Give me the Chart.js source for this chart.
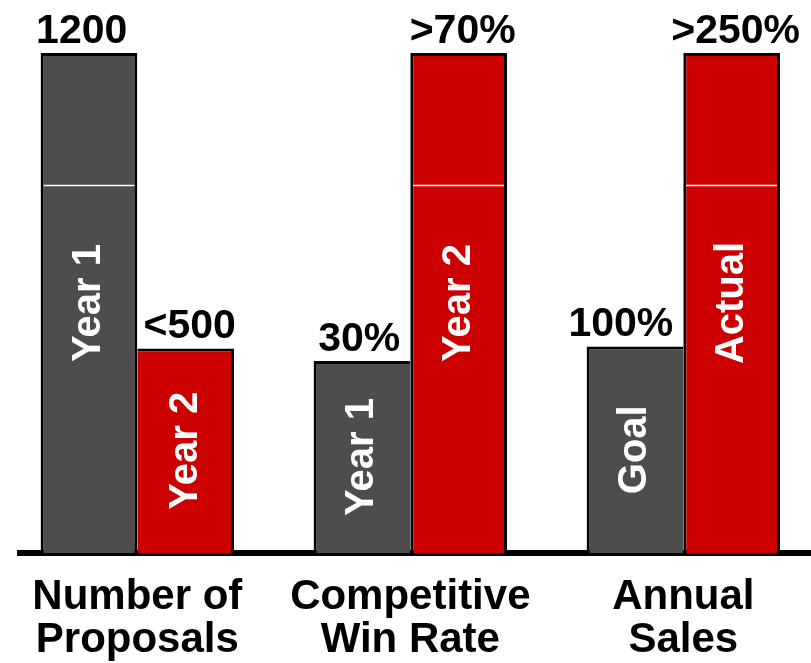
<!DOCTYPE html>
<html><head><meta charset="utf-8">
<script src="https://cdn.jsdelivr.net/npm/chart.js@4"></script>
<style>html,body{margin:0;padding:0;background:#fff;overflow:hidden}</style>
</head><body>
<canvas id="c" width="811" height="663"></canvas>
<script>
// ---- data ----
const categories = [["Number of","Proposals"],["Competitive","Win Rate"],["Annual","Sales"]];
const positions = [0, 1, 2];
const firstHeights = [100, 38.4, 41.3];     // relative bar heights (dark bars)
const secondHeights = [40.9, 100, 100];     // relative bar heights (red bars)
const firstValueLabels = ["1200", "30%", "100%"];
const secondValueLabels = ["<500", ">70%", ">250%"];
const firstBarNames = ["Year 1", "Year 1", "Goal"];
const secondBarNames = ["Year 2", "Year 2", "Actual"];
const breakValue = 73.5;

const FONT = '"Liberation Sans", Arial, Helvetica, sans-serif';
const valueLabels = [firstValueLabels, secondValueLabels];
const barNames = [firstBarNames, secondBarNames];

const annot = {
  id: 'annot',
  afterDatasetsDraw(chart) {
    const ctx = chart.ctx;
    const yb = chart.scales.y.getPixelForValue(breakValue);
    ctx.save();
    chart.data.datasets.forEach((ds, di) => {
      const meta = chart.getDatasetMeta(di);
      meta.data.forEach((bar, i) => {
        const {x, y, base, width} = bar.getProps(['x', 'y', 'base', 'width'], true);
        const left = x - width / 2, right = x + width / 2;
        if (y < yb) {
          ctx.strokeStyle = '#ffffff';
          ctx.lineWidth = 1.5;
          ctx.beginPath();
          ctx.moveTo(left + 3, yb);
          ctx.lineTo(right - 3, yb);
          ctx.stroke();
        }
        ctx.fillStyle = '#000';
        ctx.font = 'bold 41px ' + FONT;
        ctx.textBaseline = 'alphabetic';
        if (di === 0) {
          ctx.textAlign = 'right';
          ctx.fillText(valueLabels[di][i], right - 10, y - 10.5);
        } else {
          ctx.textAlign = 'center';
          ctx.fillText(valueLabels[di][i], x + 4, y - 10.5);
        }
        ctx.save();
        ctx.translate(x, (y + base) / 2);
        ctx.rotate(-Math.PI / 2);
        ctx.fillStyle = '#fff';
        ctx.font = 'bold 40px ' + FONT;
        ctx.textAlign = 'center';
        ctx.textBaseline = 'middle';
        ctx.fillText(barNames[di][i], 0, 0);
        ctx.restore();
      });
    });
    ctx.restore();
  }
};

new Chart(document.getElementById('c'), {
  type: 'bar',
  data: {
    datasets: [
      {
        data: positions.map((p, i) => ({x: p, y: firstHeights[i]})),
        backgroundColor: '#4d4d4d',
        borderColor: '#000',
        borderWidth: (c) => {
          const i = c.dataIndex;
          return {top: 3, left: 3, right: firstHeights[i] >= secondHeights[i] ? 3 : 0, bottom: 0};
        },
        borderSkipped: 'start',
        categoryPercentage: 0.7084,
        barPercentage: 1
      },
      {
        data: positions.map((p, i) => ({x: p, y: secondHeights[i]})),
        backgroundColor: '#cc0000',
        borderColor: '#000',
        borderWidth: (c) => {
          const i = c.dataIndex;
          return {top: 3, right: 3, left: secondHeights[i] > firstHeights[i] ? 3 : 0, bottom: 0};
        },
        borderSkipped: 'start',
        categoryPercentage: 0.7084,
        barPercentage: 1
      }
    ]
  },
  options: {
    responsive: false,
    animation: false,
    devicePixelRatio: 1,
    layout: {padding: {left: 20, top: 53, right: 0, bottom: 0}},
    plugins: {legend: {display: false}, tooltip: {enabled: false}},
    scales: {
      x: {
        type: 'linear',
        min: -0.4297,
        max: 2.4677,
        offset: false,
        z: 1,
        afterBuildTicks: (s) => { s.ticks = positions.map(v => ({value: v})); },
        afterFit: (s) => { s.height = 110; },
        grid: {display: false, drawTicks: false},
        border: {display: true, color: '#000', width: 6},
        ticks: {
          maxRotation: 0, minRotation: 0, autoSkip: false, padding: 23,
          color: '#000',
          font: {family: FONT, size: 42, weight: 'bold', lineHeight: '43px'},
          callback: (v) => categories[v]
        }
      },
      y: {display: false, min: 0, max: 100}
    }
  },
  plugins: [annot]
});
</script>
</body></html>
